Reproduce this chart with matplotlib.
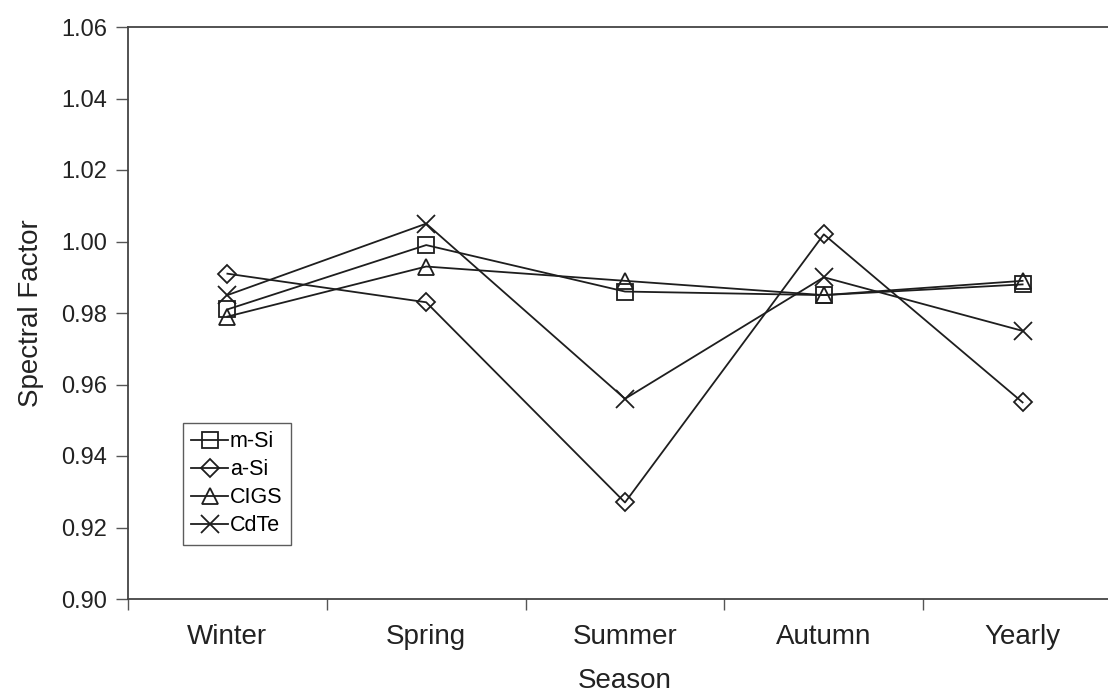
import numpy as np
import matplotlib
matplotlib.use("Agg")
import matplotlib.pyplot as plt

plt.rcParams['font.family'] = ['Liberation Sans', 'DejaVu Sans']

seasons = ["Winter", "Spring", "Summer", "Autumn", "Yearly"]
m_si = [0.981, 0.999, 0.986, 0.985, 0.988]
a_si = [0.991, 0.983, 0.927, 1.002, 0.955]
cigs = [0.979, 0.993, 0.989, 0.985, 0.989]
cdte = [0.985, 1.005, 0.956, 0.990, 0.975]

yticks = [0.90, 0.92, 0.94, 0.96, 0.98, 1.00, 1.02, 1.04, 1.06]

W, H = 1108, 700
fig = plt.figure(figsize=(W / 100, H / 100), dpi=100)
ax = fig.add_axes([128 / W, 101 / H, 994 / W, 572 / H])

ink = '#1e1e1e'
x = np.arange(1, len(seasons) + 1)
series = [
    ("m-Si", m_si, dict(marker='s', markersize=11)),
    ("a-Si", a_si, dict(marker='D', markersize=9)),
    ("CIGS", cigs, dict(marker='^', markersize=11)),
    ("CdTe", cdte, dict(marker='x', markersize=13)),
]
for name, vals, mk in series:
    ax.plot(x, vals, color=ink, lw=1.3, markerfacecolor='none',
            markeredgecolor=ink, markeredgewidth=1.3,
            label=name, clip_on=False, **mk)

ax.set_xlim(0.5, len(seasons) + 0.5)
ax.set_ylim(0.90, 1.06)
ax.set_yticks(yticks)
ax.set_yticklabels([f"{v:.2f}" for v in yticks], fontsize=17, color='#222')

# tick marks between categories, labels at category centres
ax.set_xticks(np.arange(0.5, len(seasons) + 1, 1.0))
ax.set_xticklabels([])
ax.set_xticks(x, minor=True)
ax.set_xticklabels(seasons, minor=True, fontsize=20, color='#222')
ax.tick_params(axis='x', which='minor', length=0, pad=18)
ax.tick_params(axis='x', which='major', direction='out', length=8, width=1, color='#555')
ax.tick_params(axis='y', direction='out', length=9, width=1, color='#555', pad=6)

for side in ['left', 'bottom', 'top']:
    ax.spines[side].set_color('#444')
    ax.spines[side].set_linewidth(1.3)
ax.spines['right'].set_visible(False)

ax.set_xlabel("Season", fontsize=20, color='#222', labelpad=13)
ax.set_ylabel("Spectral Factor", fontsize=20, color='#222', labelpad=12)

leg = ax.legend(loc='lower left', bbox_to_anchor=(0.055, 0.095), fontsize=15.5,
                frameon=True, fancybox=False, handlelength=1.7, handletextpad=0.1,
                labelspacing=0.32, borderpad=0.4, borderaxespad=0)
leg.get_frame().set_edgecolor('#333')
leg.get_frame().set_linewidth(1.0)

fig.savefig("out.png", dpi=100)
